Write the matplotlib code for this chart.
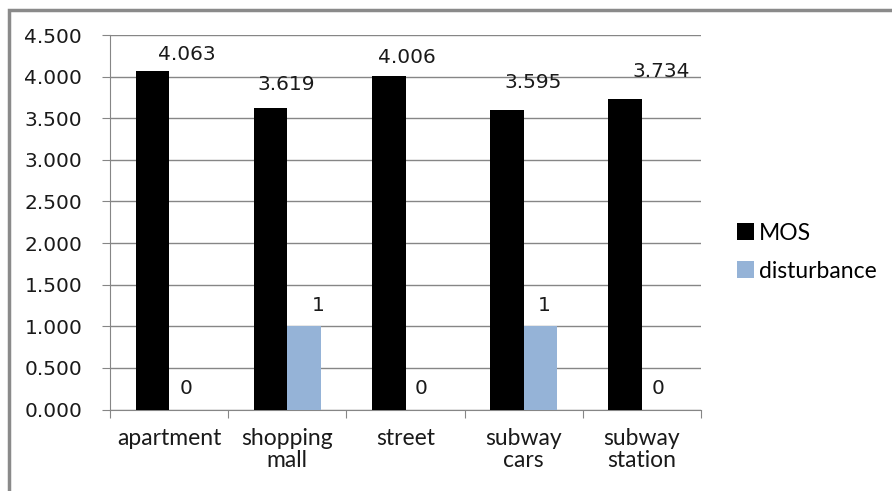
import numpy as np
import matplotlib.pyplot as plt
from matplotlib.patches import Rectangle

categories = ['apartment', 'shopping\nmall', 'street', 'subway\ncars', 'subway\nstation']
mos = [4.063, 3.619, 4.006, 3.595, 3.734]
disturbance = [0, 1, 0, 1, 0]
y_ticks = [0.0, 0.5, 1.0, 1.5, 2.0, 2.5, 3.0, 3.5, 4.0, 4.5]

# label nudges in pixels (dx, dy from top of bar to label centre)
mos_label_off = [(34, 17), (16, 24), (18, 19), (26, 28), (36, 27)]
dist_label_off = [(0, 21), (14, 21), (-1, 21), (4, 21), (-1, 21)]

grid_col = '#868686'
blue = '#95b3d7'
num_font = 'DejaVu Sans'
txt_font = 'Lato'

fig = plt.figure(figsize=(8.92, 4.91), dpi=100)
ax = fig.add_axes([110 / 892, 1 - 409.6 / 491, 591 / 892, 374.6 / 491])

x = np.arange(len(categories))
w = 0.283
b1 = ax.bar(x - w / 2, mos, w, color='black', label='MOS', zorder=3)
b2 = ax.bar(x + w / 2, disturbance, w, color=blue, label='disturbance', zorder=3)

for rect, v, (dx, dy) in zip(b1, mos, mos_label_off):
	ax.annotate('%.3f' % v, (rect.get_x() + rect.get_width() / 2, v),
		xytext=(dx, dy), textcoords='offset pixels', ha='center', va='center',
		fontsize=14.5, family=num_font, color='#1a1a1a')
for rect, v, (dx, dy) in zip(b2, disturbance, dist_label_off):
	ax.annotate('%d' % v, (rect.get_x() + rect.get_width() / 2, v),
		xytext=(dx, dy), textcoords='offset pixels', ha='center', va='center',
		fontsize=14.5, family=num_font, color='#1a1a1a')

ax.set_xlim(-0.5, len(categories) - 0.5)
ax.set_ylim(0, 4.5)
ax.set_yticks(y_ticks)
ax.set_yticklabels(['%.3f' % t for t in y_ticks], family=num_font, fontsize=14.5, color='#1a1a1a')
ax.yaxis.grid(True, color=grid_col, linewidth=1)
ax.set_axisbelow(True)

# category labels sit between boundary ticks
ax.set_xticks(np.arange(len(categories) + 1) - 0.5)
ax.set_xticklabels([])
ax.set_xticks(x, minor=True)
ax.set_xticklabels(categories, minor=True, family=txt_font, fontsize=16.5,
	color='#1a1a1a', linespacing=1.05)
ax.tick_params(axis='x', which='minor', length=0, pad=13)
ax.tick_params(axis='x', which='major', length=6, color=grid_col)
ax.tick_params(axis='y', length=6, color=grid_col, pad=14)

for s in ['top', 'right']:
	ax.spines[s].set_visible(False)
for s in ['left', 'bottom']:
	ax.spines[s].set_color(grid_col)

ax.legend(loc='center left', bbox_to_anchor=(1.045, 0.42), frameon=False,
	prop={'family': txt_font, 'size': 16.5}, handlelength=0.75, handleheight=0.75,
	handletextpad=0.2, labelspacing=0.75, borderaxespad=0)

# chart area border
fig.patches.append(Rectangle((9 / 892, -0.1), 1.2, 1 - 10 / 491 + 0.1,
	transform=fig.transFigure, fill=False, edgecolor='#8a8a8a', linewidth=2.5))

fig.savefig('out.png', dpi=100)
